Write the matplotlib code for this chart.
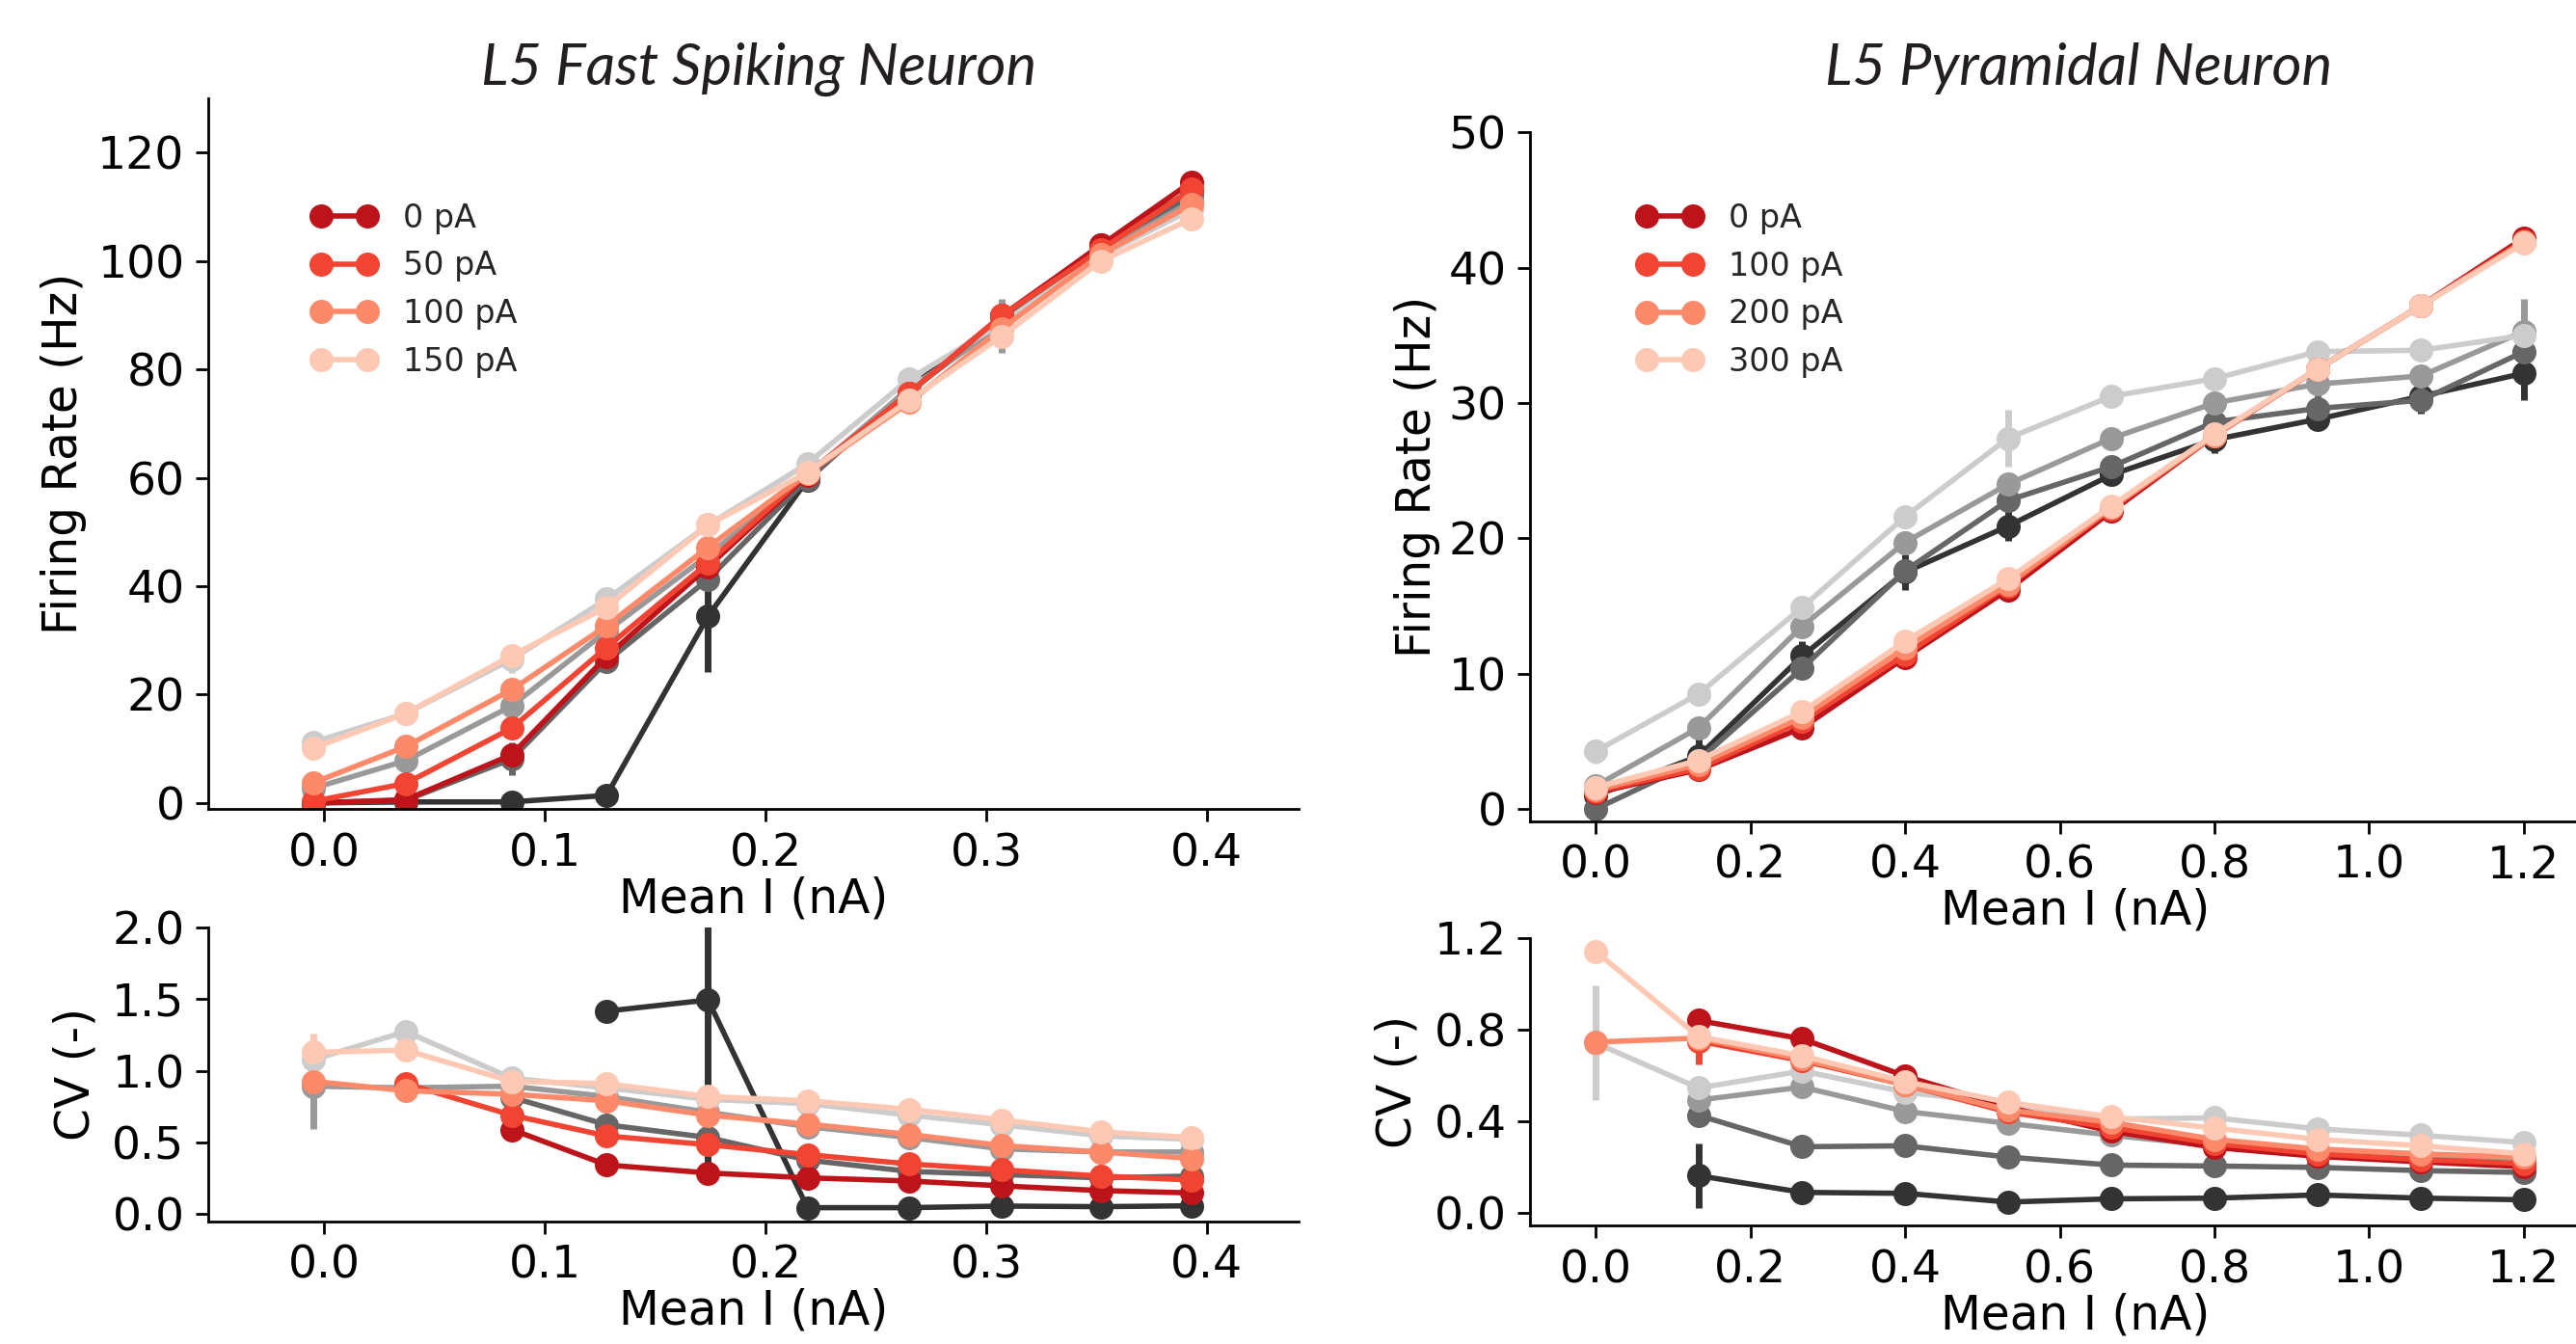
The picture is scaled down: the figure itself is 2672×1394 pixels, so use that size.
import numpy as np
import matplotlib
matplotlib.use("Agg")
from matplotlib import pyplot as plt

nan = np.nan

# x positions (mean injected current, nA)
x_fs = [-0.005, 0.037, 0.085, 0.128, 0.174, 0.219, 0.265, 0.307, 0.352, 0.393]
x_pyr = [0.0, 0.133, 0.267, 0.4, 0.533, 0.667, 0.8, 0.933, 1.067, 1.2]

fs_labels = ['0 pA', '50 pA', '100 pA', '150 pA']
pyr_labels = ['0 pA', '100 pA', '200 pA', '300 pA']

reds = ['#bc141a', '#f14432', '#fc8a6a', '#fdc9b4']
greys = ['#333333', '#666666', '#999999', '#cccccc']

# ---- L5 fast spiking: firing rate (Hz) ----
fs_fr_red = [
    [0.0, 0.6, 8.9, 27.0, 43.6, 60.5, 75.6, 89.9, 102.9, 114.6],
    [0.3, 3.6, 13.8, 28.7, 44.3, 60.8, 75.6, 89.9, 102.1, 113.2],
    [3.7, 10.4, 20.9, 32.7, 47.2, 60.8, 73.9, 87.5, 101.2, 110.4],
    [10.1, 16.5, 27.2, 36.1, 51.3, 61.0, 74.3, 86.1, 100.0, 107.8],
]
fs_fr_grey = [
    [0.0, 0.2, 0.2, 1.4, 34.5, 59.6, 76.5, 89.5, 103.0, 113.0],
    [0.0, 0.5, 8.1, 26.1, 41.3, 59.8, 76.0, 88.5, 102.0, 112.0],
    [2.7, 7.8, 17.9, 31.7, 45.7, 60.5, 76.5, 88.0, 101.5, 111.0],
    [11.2, 16.5, 26.5, 37.6, 51.3, 62.6, 78.2, 88.5, 101.0, 109.5],
]
fs_fr_grey_err = [
    [0, 0, 0, 0, 10.3, 0, 0, 0, 2.0, 2.5],
    [0, 0, 3.0, 2.0, 0, 2.0, 0, 0, 0, 0],
    [0, 0, 0, 0, 0, 0, 0, 5.0, 0, 0],
    [1.5, 0, 2.5, 0, 0, 0, 0, 0, 0, 0],
]

# ---- L5 fast spiking: CV ----
fs_cv_red = [
    [nan, nan, 0.59, 0.343, 0.287, 0.253, 0.231, 0.197, 0.164, 0.148],
    [nan, 0.91, 0.69, 0.545, 0.484, 0.415, 0.35, 0.309, 0.265, 0.238],
    [0.926, 0.86, 0.836, 0.79, 0.69, 0.628, 0.556, 0.478, 0.433, 0.388],
    [1.128, 1.143, 0.926, 0.91, 0.82, 0.79, 0.731, 0.657, 0.574, 0.534],
]
fs_cv_red_err = [
    [0] * 10,
    [0] * 10,
    [0, 0, 0, 0.05, 0, 0, 0, 0, 0, 0],
    [0.13, 0, 0, 0, 0, 0, 0, 0, 0, 0],
]
fs_cv_grey = [
    [nan, nan, nan, 1.415, 1.493, 0.045, 0.045, 0.056, 0.052, 0.058],
    [nan, nan, 0.814, 0.623, 0.534, 0.377, 0.298, 0.276, 0.253, 0.265],
    [0.892, 0.88, 0.892, 0.82, 0.71, 0.61, 0.534, 0.455, 0.433, 0.433],
    [1.076, 1.273, 0.948, 0.88, 0.80, 0.77, 0.69, 0.623, 0.545, 0.522],
]
fs_cv_grey_err = [
    [0, 0, 0, 0, 1.14, 0, 0, 0, 0, 0],
    [0] * 10,
    [0.3, 0, 0, 0, 0, 0.06, 0, 0, 0, 0],
    [0] * 10,
]

# ---- L5 pyramidal: firing rate (Hz) ----
pyr_fr_red = [
    [1.2, 2.9, 6.0, 11.2, 16.2, 22.0, 27.6, 32.5, 37.2, 42.2],
    [1.3, 3.0, 6.5, 11.4, 16.5, 22.2, 27.6, 32.5, 37.2, 42.0],
    [1.4, 3.3, 6.8, 11.9, 16.6, 22.3, 27.6, 32.5, 37.2, 41.9],
    [1.6, 3.6, 7.2, 12.4, 17.0, 22.4, 27.7, 32.5, 37.2, 41.8],
]
pyr_fr_grey = [
    [1.0, 3.9, 11.3, 17.5, 20.9, 24.7, 27.3, 28.8, 30.5, 32.2],
    [0.0, 3.6, 10.4, 17.6, 22.8, 25.3, 28.6, 29.6, 30.2, 33.8],
    [1.7, 6.0, 13.5, 19.7, 24.0, 27.4, 30.0, 31.4, 32.0, 35.3],
    [4.26, 8.5, 14.9, 21.6, 27.4, 30.5, 31.8, 33.8, 33.9, 35.0],
]
pyr_fr_grey_err = [
    [0, 1.4, 1.1, 1.3, 1.1, 0.7, 1.0, 0, 1.3, 2.0],
    [0, 0, 0, 0, 0, 0, 0, 1.3, 0, 0],
    [0, 0, 0, 0.8, 0, 0, 0, 0, 0, 2.4],
    [0.9, 0, 0, 0, 2.1, 0, 0, 0, 0, 0],
]

# ---- L5 pyramidal: CV ----
pyr_cv_red = [
    [nan, 0.84, 0.76, 0.598, 0.462, 0.357, 0.287, 0.248, 0.224, 0.203],
    [nan, 0.75, 0.665, 0.56, 0.441, 0.374, 0.304, 0.259, 0.234, 0.217],
    [0.746, 0.763, 0.672, 0.56, 0.45, 0.396, 0.322, 0.28, 0.259, 0.245],
    [1.141, 0.77, 0.686, 0.574, 0.483, 0.42, 0.371, 0.322, 0.294, 0.259],
]
pyr_cv_red_err = [
    [0] * 10,
    [0, 0.1, 0, 0, 0, 0, 0, 0, 0, 0],
    [0] * 10,
    [0] * 10,
]
pyr_cv_grey = [
    [nan, 0.164, 0.091, 0.087, 0.049, 0.063, 0.066, 0.08, 0.066, 0.059],
    [nan, 0.427, 0.29, 0.294, 0.245, 0.21, 0.206, 0.2, 0.186, 0.178],
    [nan, 0.493, 0.55, 0.444, 0.392, 0.34, 0.294, 0.27, 0.25, 0.24],
    [0.742, 0.546, 0.62, 0.528, 0.476, 0.41, 0.416, 0.368, 0.34, 0.308],
]
pyr_cv_grey_err = [
    [0, 0.14, 0, 0, 0, 0, 0, 0, 0, 0],
    [0] * 10,
    [0] * 10,
    [0.25, 0, 0, 0, 0, 0, 0, 0, 0, 0],
]

plt.rcParams['font.family'] = ['DejaVu Sans']
plt.rcParams['axes.linewidth'] = 1.0
plt.rcParams['xtick.major.size'] = 4.7
plt.rcParams['ytick.major.size'] = 4.7
plt.rcParams['xtick.major.width'] = 1.0
plt.rcParams['ytick.major.width'] = 1.0
plt.rcParams['xtick.major.pad'] = 4.0
plt.rcParams['ytick.major.pad'] = 4.0

fig = plt.figure(figsize=(13.36, 6.97), dpi=200)

ax_tl = fig.add_axes([0.0807, 0.3981, 0.4234, 0.5287])
ax_bl = fig.add_axes([0.0807, 0.0913, 0.4234, 0.2188])
ax_tr = fig.add_axes([0.5939, 0.3890, 0.4234, 0.5125])
ax_br = fig.add_axes([0.5939, 0.0882, 0.4234, 0.2140])


def draw(ax, x, grey_vals, grey_err, red_vals, red_err):
    for vals, err, c in zip(grey_vals, grey_err, greys):
        ax.errorbar(x, vals, yerr=err, color=c, marker='o', ms=8, lw=2.0,
                    elinewidth=2.5, capsize=0)
    handles = []
    for vals, err, c in zip(red_vals, red_err, reds):
        cont = ax.errorbar(x, vals, yerr=err, color=c, marker='o', ms=8,
                           lw=2.0, elinewidth=2.5, capsize=0)
        handles.append(cont[0])
    return handles


zeros = [[0] * 10] * 4
h_fs = draw(ax_tl, x_fs, fs_fr_grey, fs_fr_grey_err, fs_fr_red, zeros)
draw(ax_bl, x_fs, fs_cv_grey, fs_cv_grey_err, fs_cv_red, fs_cv_red_err)
h_pyr = draw(ax_tr, x_pyr, pyr_fr_grey, pyr_fr_grey_err, pyr_fr_red, zeros)
draw(ax_br, x_pyr, pyr_cv_grey, pyr_cv_grey_err, pyr_cv_red, pyr_cv_red_err)

for ax in [ax_tl, ax_bl, ax_tr, ax_br]:
    ax.spines['top'].set_visible(False)
    ax.spines['right'].set_visible(False)
    ax.tick_params(labelsize=17, colors='black')
    ax.set_xlabel('Mean I (nA)', fontsize=17.5, labelpad=0)

# fast spiking axes
ax_tl.set_xlim(-0.0526, 0.4415)
ax_bl.set_xlim(-0.0526, 0.4415)
ax_tl.set_ylim(-1.1, 130)
ax_bl.set_ylim(-0.05, 2.0)
ax_tl.set_xticks([0.0, 0.1, 0.2, 0.3, 0.4])
ax_bl.set_xticks([0.0, 0.1, 0.2, 0.3, 0.4])
ax_tl.set_yticks([0, 20, 40, 60, 80, 100, 120])
ax_bl.set_yticks([0.0, 0.5, 1.0, 1.5, 2.0])
ax_bl.yaxis.set_major_formatter(matplotlib.ticker.FormatStrFormatter('%.1f'))

# pyramidal axes
ax_tr.set_xlim(-0.085, 1.325)
ax_br.set_xlim(-0.085, 1.325)
ax_tr.set_ylim(-0.9, 50)
ax_br.set_ylim(-0.053, 1.2)
ax_tr.set_xticks([0.0, 0.2, 0.4, 0.6, 0.8, 1.0, 1.2])
ax_br.set_xticks([0.0, 0.2, 0.4, 0.6, 0.8, 1.0, 1.2])
ax_tr.set_yticks([0, 10, 20, 30, 40, 50])
ax_br.set_yticks([0.0, 0.4, 0.8, 1.2])
ax_br.yaxis.set_major_formatter(matplotlib.ticker.FormatStrFormatter('%.1f'))

ax_tl.set_ylabel('Firing Rate (Hz)', fontsize=17.5, labelpad=4)
ax_tr.set_ylabel('Firing Rate (Hz)', fontsize=17.5, labelpad=3)
ax_bl.set_ylabel('CV (-)', fontsize=17.5, labelpad=5)
ax_br.set_ylabel('CV (-)', fontsize=17.5, labelpad=5)

leg_kw = dict(loc='upper left', frameon=False, numpoints=2, fontsize=12,
              handlelength=2.05, handletextpad=0.8, labelspacing=0.5,
              borderaxespad=0, labelcolor='#262626')
ax_tl.legend(h_fs, fs_labels, bbox_to_anchor=(0.083, 0.872), **leg_kw)
ax_tr.legend(h_pyr, pyr_labels, bbox_to_anchor=(0.086, 0.917), **leg_kw)

title_font = ['Lato', 'DejaVu Sans']
fig.text(0.2945, 0.9367, 'L5 Fast Spiking Neuron', ha='center', va='baseline',
         fontsize=21.5, style='italic', family=title_font, color='#231f20')
fig.text(0.807, 0.9367, 'L5 Pyramidal Neuron', ha='center', va='baseline',
         fontsize=21.5, style='italic', family=title_font, color='#231f20')

fig.savefig('out.png', dpi=200)
